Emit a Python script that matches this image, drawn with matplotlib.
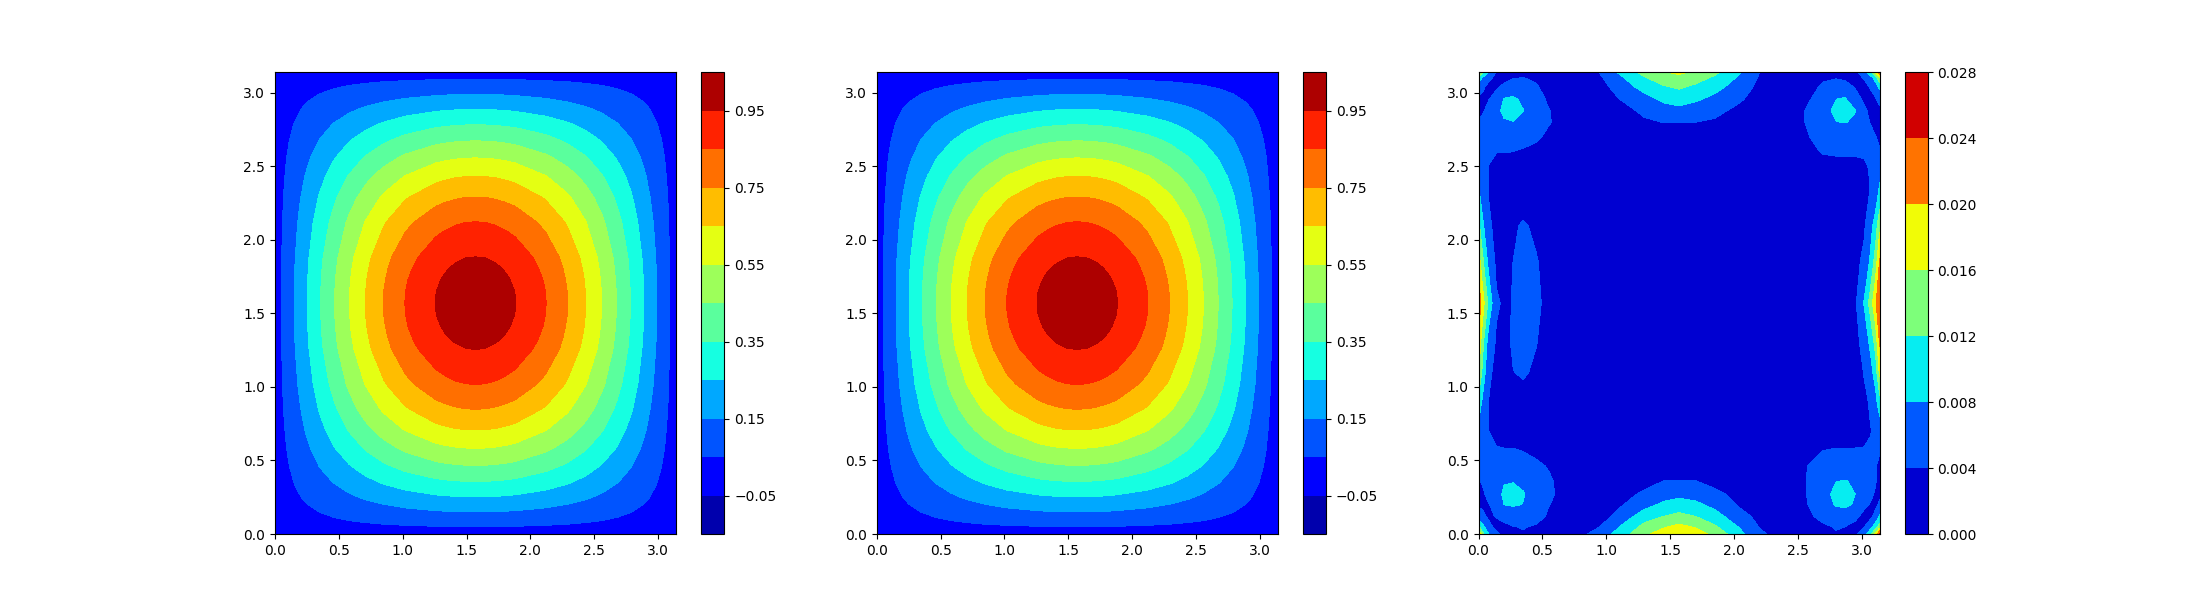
import matplotlib
matplotlib.use('Agg')
import matplotlib.pyplot as plt
import numpy as np

# Grid de leitura do campo (mais denso onde as curvas ficam juntas)
x_campo = [0, 0.065, 0.15, 0.25, 0.35, 0.46, 0.58, 0.71, 0.85, 1.02, 1.26, 1.33, 1.41, 1.49, 1.57,
           1.65, 1.73, 1.81, 1.88, 2.12, 2.29, 2.43, 2.56, 2.68, 2.79, 2.89, 2.99, 3.077, 3.14159]
y_campo = [0, 0.065, 0.15, 0.25, 0.35, 0.46, 0.58, 0.71, 0.85, 1.02, 1.26, 1.33, 1.41, 1.49, 1.57,
           1.65, 1.73, 1.81, 1.88, 2.12, 2.29, 2.43, 2.56, 2.68, 2.79, 2.89, 2.99, 3.077, 3.14159]

campo = [
    [0, 0, 0, 0, 0, 0, 0, 0, 0, 0, 0, 0, 0, 0, 0, 0, 0, 0, 0, 0, 0, 0, 0, 0, 0, 0, 0, 0, 0],
    [0, .004, .010, .016, .022, .029, .036, .042, .049, .055, .062, .063, .064, .065, .065, .065, .064, .063, .062, .055, .049, .042, .036, .029, .022, .016, .010, .004, 0],
    [0, .010, .022, .037, .051, .066, .082, .097, .112, .127, .142, .145, .147, .149, .149, .149, .147, .145, .142, .127, .112, .097, .082, .066, .051, .037, .022, .010, 0],
    [0, .016, .037, .061, .085, .110, .135, .161, .185, .210, .235, .240, .244, .246, .247, .246, .244, .240, .235, .210, .185, .161, .135, .110, .085, .061, .037, .016, 0],
    [0, .022, .051, .085, .118, .152, .188, .224, .258, .292, .327, .333, .339, .342, .343, .342, .339, .333, .327, .292, .258, .224, .188, .152, .118, .085, .051, .022, 0],
    [0, .029, .066, .110, .152, .197, .243, .289, .333, .378, .423, .431, .438, .443, .444, .443, .438, .431, .423, .378, .333, .289, .243, .197, .152, .110, .066, .029, 0],
    [0, .036, .082, .135, .188, .243, .300, .357, .412, .467, .522, .532, .541, .546, .548, .546, .541, .532, .522, .467, .412, .357, .300, .243, .188, .135, .082, .036, 0],
    [0, .042, .097, .161, .224, .289, .357, .425, .490, .555, .621, .633, .644, .650, .652, .650, .644, .633, .621, .555, .490, .425, .357, .289, .224, .161, .097, .042, 0],
    [0, .049, .112, .185, .258, .333, .412, .490, .564, .640, .715, .729, .741, .749, .751, .749, .741, .729, .715, .640, .564, .490, .412, .333, .258, .185, .112, .049, 0],
    [0, .055, .127, .210, .292, .378, .467, .555, .640, .726, .811, .827, .841, .849, .852, .849, .841, .827, .811, .726, .640, .555, .467, .378, .292, .210, .127, .055, 0],
    [0, .062, .142, .235, .327, .423, .522, .621, .715, .811, .906, .924, .940, .949, .952, .949, .940, .924, .906, .811, .715, .621, .522, .423, .327, .235, .142, .062, 0],
    [0, .063, .145, .240, .333, .431, .532, .633, .729, .827, .924, .943, .958, .968, .971, .968, .958, .943, .924, .827, .729, .633, .532, .431, .333, .240, .145, .063, 0],
    [0, .064, .147, .244, .339, .438, .541, .644, .741, .841, .940, .958, .974, .984, .987, .984, .974, .958, .940, .841, .741, .644, .541, .438, .339, .244, .147, .064, 0],
    [0, .065, .149, .246, .342, .443, .546, .650, .749, .849, .949, .968, .984, .994, .997, .994, .984, .968, .949, .849, .749, .650, .546, .443, .342, .246, .149, .065, 0],
    [0, .065, .149, .247, .343, .444, .548, .652, .751, .852, .952, .971, .987, .997, 1.00, .997, .987, .971, .952, .852, .751, .652, .548, .444, .343, .247, .149, .065, 0],
    [0, .065, .149, .246, .342, .443, .546, .650, .749, .849, .949, .968, .984, .994, .997, .994, .984, .968, .949, .849, .749, .650, .546, .443, .342, .246, .149, .065, 0],
    [0, .064, .147, .244, .339, .438, .541, .644, .741, .841, .940, .958, .974, .984, .987, .984, .974, .958, .940, .841, .741, .644, .541, .438, .339, .244, .147, .064, 0],
    [0, .063, .145, .240, .333, .431, .532, .633, .729, .827, .924, .943, .958, .968, .971, .968, .958, .943, .924, .827, .729, .633, .532, .431, .333, .240, .145, .063, 0],
    [0, .062, .142, .235, .327, .423, .522, .621, .715, .811, .906, .924, .940, .949, .952, .949, .940, .924, .906, .811, .715, .621, .522, .423, .327, .235, .142, .062, 0],
    [0, .055, .127, .210, .292, .378, .467, .555, .640, .726, .811, .827, .841, .849, .852, .849, .841, .827, .811, .726, .640, .555, .467, .378, .292, .210, .127, .055, 0],
    [0, .049, .112, .185, .258, .333, .412, .490, .564, .640, .715, .729, .741, .749, .751, .749, .741, .729, .715, .640, .564, .490, .412, .333, .258, .185, .112, .049, 0],
    [0, .042, .097, .161, .224, .289, .357, .425, .490, .555, .621, .633, .644, .650, .652, .650, .644, .633, .621, .555, .490, .425, .357, .289, .224, .161, .097, .042, 0],
    [0, .036, .082, .135, .188, .243, .300, .357, .412, .467, .522, .532, .541, .546, .548, .546, .541, .532, .522, .467, .412, .357, .300, .243, .188, .135, .082, .036, 0],
    [0, .029, .066, .110, .152, .197, .243, .289, .333, .378, .423, .431, .438, .443, .444, .443, .438, .431, .423, .378, .333, .289, .243, .197, .152, .110, .066, .029, 0],
    [0, .022, .051, .085, .118, .152, .188, .224, .258, .292, .327, .333, .339, .342, .343, .342, .339, .333, .327, .292, .258, .224, .188, .152, .118, .085, .051, .022, 0],
    [0, .016, .037, .061, .085, .110, .135, .161, .185, .210, .235, .240, .244, .246, .247, .246, .244, .240, .235, .210, .185, .161, .135, .110, .085, .061, .037, .016, 0],
    [0, .010, .022, .037, .051, .066, .082, .097, .112, .127, .142, .145, .147, .149, .149, .149, .147, .145, .142, .127, .112, .097, .082, .066, .051, .037, .022, .010, 0],
    [0, .004, .010, .016, .022, .029, .036, .042, .049, .055, .062, .063, .064, .065, .065, .065, .064, .063, .062, .055, .049, .042, .036, .029, .022, .016, .010, .004, 0],
    [0, 0, 0, 0, 0, 0, 0, 0, 0, 0, 0, 0, 0, 0, 0, 0, 0, 0, 0, 0, 0, 0, 0, 0, 0, 0, 0, 0, 0],
]

# Grid do painel de erro
x_erro = [0, 0.04, 0.08, 0.14, 0.2, 0.27, 0.35, 0.45, 0.55, 0.75, 0.95, 1.1, 1.3, 1.45, 1.57, 1.7,
          1.85, 2.05, 2.2, 2.4, 2.55, 2.7, 2.8, 2.87, 2.95, 3.02, 3.07, 3.11, 3.14159]
y_erro = [0, 0.05, 0.12, 0.2, 0.27, 0.36, 0.46, 0.56, 0.7, 0.9, 1.1, 1.3, 1.57, 1.85,
          2.1, 2.3, 2.48, 2.6, 2.7, 2.8, 2.88, 2.96, 3.04, 3.1, 3.14159]

# Erro em milesimos, linhas de baixo para cima
erro_mil = [
    [20, 12, 8, 4.8, 3, 3.3, 3.7, 3.4, 3, 2.5, 5.4, 9.6, 15.2, 18, 19.3, 18, 14.8, 9, 4.8, 2, 2.5, 3.2, 3.8, 3.8, 3.5, 6, 11, 17, 25],
    [13, 8.5, 5, 3, 3.3, 3.9, 4.2, 3.7, 3.2, 2.5, 4, 7.9, 13.2, 15.5, 17, 15.5, 12.5, 7.5, 3.8, 2, 2.6, 3.6, 4.2, 4, 3.3, 3.8, 6.5, 10, 14],
    [6, 4.6, 3.4, 4.2, 5, 5.8, 5.8, 5.1, 3.6, 2.3, 2.2, 5.3, 10.1, 12, 13, 12, 9.6, 5.3, 3, 2.2, 3.2, 4.8, 5.6, 5.6, 4.6, 3.2, 3.2, 5.2, 8.5],
    [3.6, 3.2, 3.9, 4.8, 8.05, 8.4, 7.9, 6, 4.1, 2.3, 2, 3.4, 6.6, 8.8, 9.8, 8.9, 6.8, 3.4, 2.2, 2.3, 3.6, 5.6, 8.5, 8.8, 7.6, 4.6, 3.8, 3.2, 4.6],
    [3.2, 3.7, 5, 6.4, 8.7, 9.3, 8.2, 6.5, 4.5, 2.3, 1.9, 2.3, 4.8, 6.3, 6.9, 6.3, 4.9, 2.8, 2, 2.4, 3.7, 6.2, 9.4, 9.8, 8, 5.6, 4.6, 3.6, 3.4],
    [3.8, 4.4, 5.5, 6.4, 7.7, 7.8, 7.4, 6, 4.4, 2.2, 1.8, 1.9, 2.5, 4.05, 4.1, 4.05, 2.9, 2.1, 1.9, 2.4, 3.8, 5.6, 7.9, 8.15, 7.6, 5.8, 5, 4.2, 2.8],
    [4.8, 5, 5.5, 5.6, 5.8, 5.8, 5.4, 4.6, 3.8, 2, 1.7, 1.7, 1.8, 1.9, 2, 1.9, 1.8, 1.7, 1.8, 2.3, 3.7, 5.4, 6, 6.1, 5.8, 5.4, 5, 4.2, 3],
    [5.5, 5, 4.4, 4.3, 4.2, 4.2, 4, 3.4, 2.8, 1.9, 1.6, 1.6, 1.6, 1.7, 1.7, 1.7, 1.6, 1.5, 1.6, 2, 2.9, 4.1, 4.3, 4.3, 4.3, 4.3, 4.3, 4.1, 4.2],
    [6.8, 5.2, 4, 3.2, 3, 3, 2.9, 2.5, 2.2, 1.7, 1.5, 1.5, 1.5, 1.5, 1.5, 1.5, 1.5, 1.5, 1.5, 1.6, 2, 2.4, 2.5, 2.5, 2.6, 3, 3.9, 4.5, 5.5],
    [10.5, 6.5, 3.9, 3, 2.9, 3, 3.1, 2.8, 2.2, 1.6, 1.4, 1.4, 1.4, 1.4, 1.4, 1.4, 1.4, 1.4, 1.4, 1.4, 1.6, 1.7, 1.8, 1.9, 2.2, 3.3, 4.4, 6.6, 10.8],
    [16.5, 9.5, 4.8, 2.9, 3.3, 3.95, 4.3, 3.6, 2.6, 1.6, 1.4, 1.4, 1.4, 1.4, 1.4, 1.4, 1.4, 1.4, 1.4, 1.4, 1.5, 1.6, 1.6, 1.7, 2.2, 4.2, 6.5, 10, 17],
    [19, 11.8, 6, 3.6, 3.5, 4.2, 4.7, 4.1, 3, 1.7, 1.4, 1.4, 1.4, 1.4, 1.4, 1.4, 1.4, 1.4, 1.4, 1.4, 1.5, 1.6, 1.7, 2, 2.9, 5.2, 9, 13.5, 20.5],
    [23, 16.6, 10.8, 4.4, 3.6, 4.1, 4.9, 4.5, 3.3, 1.8, 1.5, 1.5, 1.5, 1.5, 1.5, 1.5, 1.5, 1.5, 1.5, 1.5, 1.6, 1.7, 2, 2.6, 3.4, 8.3, 13.8, 19.4, 23.5],
    [18, 11.8, 6.8, 3.3, 3, 4, 4.6, 4.2, 3.1, 1.7, 1.5, 1.5, 1.5, 1.5, 1.5, 1.5, 1.5, 1.5, 1.5, 1.5, 1.6, 1.7, 1.9, 2.4, 3, 4.8, 8.8, 14, 20.5],
    [13, 8, 4.6, 3, 2.9, 3.6, 4.3, 3.5, 2.5, 1.7, 1.5, 1.5, 1.5, 1.5, 1.5, 1.5, 1.5, 1.5, 1.5, 1.5, 1.6, 1.7, 1.8, 2, 2.4, 3.5, 6.5, 10, 15],
    [8.8, 5.8, 3.9, 2.6, 2.3, 2.3, 2.4, 2.2, 1.9, 1.6, 1.5, 1.5, 1.5, 1.5, 1.5, 1.5, 1.5, 1.5, 1.5, 1.5, 1.6, 1.8, 2.1, 2.2, 2.4, 3, 4.3, 6, 9.5],
    [6.5, 5, 3.9, 2.8, 2.6, 2.6, 2.6, 2.4, 2.1, 1.8, 1.7, 1.6, 1.6, 1.6, 1.6, 1.6, 1.6, 1.6, 1.6, 1.9, 2.3, 2.9, 3.1, 3.2, 3.2, 3.4, 4.2, 5, 6.5],
    [5.5, 4.8, 4.3, 4.1, 4.1, 4, 3.7, 3.2, 2.6, 2, 1.8, 1.8, 1.8, 1.9, 1.9, 1.9, 1.8, 1.7, 1.7, 2.2, 3.2, 4.2, 4.3, 4.3, 4.3, 4.4, 4.4, 4.3, 4.3],
    [4.8, 4.6, 5, 5.2, 5.4, 5.3, 5, 4.5, 3.4, 2.1, 1.9, 1.9, 1.9, 2, 2.1, 2, 1.9, 1.8, 1.8, 2.2, 3.5, 5.2, 6, 6.2, 6.2, 5.8, 5, 4.1, 3.2],
    [4.1, 5, 6, 6.3, 7.6, 7.9, 7.2, 5.8, 4.2, 2.2, 2, 2.3, 3.6, 4.05, 4.1, 4, 3.6, 2.6, 2.1, 2.5, 3.9, 6.3, 7.9, 8.1, 7.6, 5, 3.8, 3, 3],
    [3.2, 3.8, 5.3, 7, 8.8, 9.1, 8.1, 6, 4.1, 2.3, 2.1, 2.9, 4.6, 6.2, 6.9, 6.1, 4.8, 3.2, 2.3, 2.4, 3.9, 6.6, 8.9, 9.4, 8.1, 4.6, 3.3, 2.8, 3.4],
    [3.4, 3.6, 3.8, 5.3, 8.1, 8.6, 7.2, 5.2, 3.5, 2.3, 2.3, 4, 6.5, 9, 9.8, 8.7, 7, 4.4, 2.6, 2.3, 3.2, 5.4, 7.9, 8.3, 5.2, 3.4, 3, 3.8, 5],
    [6, 4.2, 3.2, 3.6, 4.6, 5.5, 5.4, 4.3, 3, 2.2, 2.6, 5.5, 9.6, 11.6, 12.5, 11.2, 9.3, 6, 3, 2.3, 2.8, 4.4, 5.2, 5, 3.8, 3, 4.3, 6, 9],
    [11, 6.2, 4.7, 3.2, 3.2, 3.9, 4.1, 3.6, 2.5, 2.2, 3.4, 7, 11.6, 14, 14.8, 13.6, 11.2, 7.2, 3.6, 2.2, 2.5, 3.7, 3.9, 3.6, 2.9, 4.2, 6, 10, 15],
    [18, 12.5, 8.3, 3.9, 2.5, 2.6, 2.6, 2.4, 2.2, 2.2, 4.2, 8.5, 13.5, 15.8, 16.8, 15.4, 13, 8.2, 4, 2.3, 2.4, 2.5, 2.6, 2.6, 3.2, 6, 11, 17, 24],
]

niveis_campo = [-0.15, -0.05, 0.05, 0.15, 0.25, 0.35, 0.45, 0.55, 0.65, 0.75, 0.85, 0.95, 1.05]
ticks_campo = [-0.05, 0.15, 0.35, 0.55, 0.75, 0.95]
niveis_erro = [0, 0.004, 0.008, 0.012, 0.016, 0.020, 0.024, 0.028]
ticks_erro = [0, 0.004, 0.008, 0.012, 0.016, 0.020, 0.024, 0.028]

fig, (ax1, ax2, ax3) = plt.subplots(1, 3, figsize=(22, 6))

# Os dois primeiros paineis
for ax in (ax1, ax2):
    cf = ax.contourf(x_campo, y_campo, campo, levels=niveis_campo, cmap='jet')
    fig.colorbar(cf, ax=ax, ticks=ticks_campo)

# Painel do erro
cf3 = ax3.contourf(x_erro, y_erro, np.array(erro_mil) / 1000, levels=niveis_erro, cmap='jet')
fig.colorbar(cf3, ax=ax3, ticks=ticks_erro)

plt.savefig('out.png', dpi=100)
